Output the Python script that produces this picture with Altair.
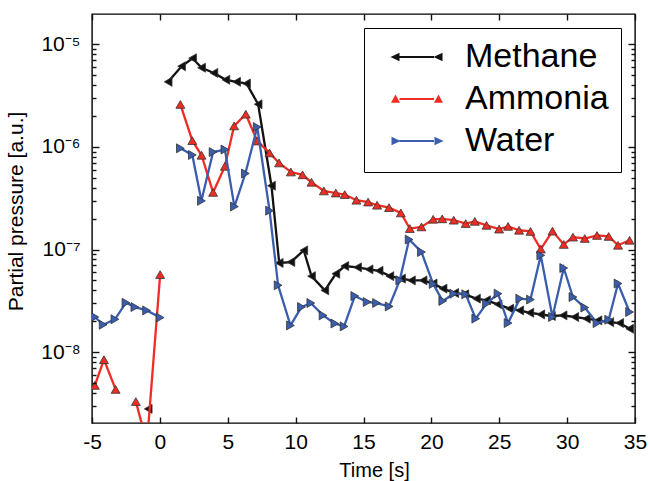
import altair as alt
import pandas as pd

series_names = ["Methane", "Ammonia", "Water"]
series_colors = ["#111111", "#ee2d24", "#3a5dae"]
series_shapes = ["triangle-left", "triangle-up", "triangle-right"]

# Methane (segment 0 = isolated point before t=0)
methane_t = [-0.86,
             0.61, 1.6, 2.41, 3.07, 3.98, 4.86, 5.65, 6.38, 7.24, 8.22, 8.79, 9.65, 10.6, 11.17,
             12.15, 12.96, 13.62, 14.56, 15.41, 16.15, 16.94, 17.8, 18.53, 19.39, 20.13, 20.86,
             21.72, 22.46, 23.32, 24.06, 24.91, 25.77, 26.51, 27.25, 28.06, 28.84, 29.7, 30.56,
             31.42, 32.27, 33.14, 33.87, 34.61]
methane_v = [2.8e-9,
             4.3e-6, 6.1e-6, 7.3e-6, 5.9e-6, 5.25e-6, 4.5e-6, 4.3e-6, 4.14e-6, 2.6e-6, 4.18e-7,
             7.4e-8, 7.55e-8, 9.8e-8, 5.5e-8, 4.0e-8, 5.8e-8, 6.9e-8, 6.7e-8, 6.4e-8, 6.2e-8,
             5.5e-8, 5.2e-8, 5.0e-8, 5.0e-8, 4.66e-8, 4.16e-8, 3.77e-8, 3.66e-8, 3.32e-8, 3.2e-8,
             2.92e-8, 2.65e-8, 2.55e-8, 2.42e-8, 2.33e-8, 2.25e-8, 2.28e-8, 2.2e-8, 2.12e-8,
             2.04e-8, 1.96e-8, 1.92e-8, 1.69e-8]
methane_seg = [0] + [1] * 43

ammonia_t = [-4.79, -4.12, -3.26,
             -1.77, -0.95, 0.02,
             1.51, 2.39, 3.07, 3.92, 4.79, 5.47, 6.33, 7.17, 8.08, 8.78, 9.65, 10.51, 11.17,
             12.08, 12.96, 13.62, 14.48, 15.34, 16.0, 16.88, 17.75, 18.41, 19.27, 20.13, 20.8,
             21.65, 22.53, 23.2, 24.06, 24.99, 25.65, 26.46, 27.3, 28.06, 28.92, 29.75, 30.43,
             31.3, 32.2, 33.06, 33.75, 34.6]
ammonia_v = [4.74e-9, 8.45e-9, 4.33e-9,
             3.3e-9, 1.3e-9, 5.7e-8,
             2.59e-6, 1.15e-6, 8.28e-7, 3.6e-7, 6.47e-7, 1.6e-6, 2.08e-6, 1.14e-6, 8.73e-7,
             6.97e-7, 5.69e-7, 5.34e-7, 4.52e-7, 3.72e-7, 3.55e-7, 3.43e-7, 3.02e-7, 2.9e-7,
             2.7e-7, 2.56e-7, 2.27e-7, 1.6e-7, 1.66e-7, 1.97e-7, 1.99e-7, 1.93e-7, 1.79e-7,
             1.88e-7, 1.72e-7, 1.58e-7, 1.68e-7, 1.54e-7, 1.5e-7, 1.01e-7, 1.51e-7, 1.12e-7,
             1.32e-7, 1.28e-7, 1.37e-7, 1.34e-7, 1.1e-7, 1.23e-7]
ammonia_seg = [0] * 3 + [1] * 3 + [2] * 42

water_t = [-4.79, -4.18, -3.31, -2.5, -1.84, -0.98, 0.02,
           1.51, 2.39, 3.06, 3.92, 4.79, 5.49, 6.3, 7.17, 8.08, 8.71, 9.62, 10.43, 11.12, 12.02,
           12.89, 13.57, 14.36, 15.27, 15.96, 16.89, 17.67, 18.36, 19.27, 20.13, 20.84, 21.65,
           22.53, 23.27, 24.06, 24.91, 25.65, 26.51, 27.3, 28.06, 28.92, 29.75, 30.43, 31.3,
           32.2, 33.06, 33.75, 34.6]
water_v = [2.2e-8, 1.85e-8, 2.09e-8, 3.03e-8, 2.75e-8, 2.55e-8, 2.17e-8,
           9.68e-7, 8.34e-7, 2.98e-7, 8.9e-7, 9.41e-7, 2.62e-7, 5.5e-7, 1.56e-6, 2.39e-7,
           4.48e-8, 1.82e-8, 2.75e-8, 3.01e-8, 2.28e-8, 1.9e-8, 1.78e-8, 3.52e-8, 3.08e-8,
           3.01e-8, 2.79e-8, 5.01e-8, 1.25e-7, 9.46e-8, 4.62e-8, 3.15e-8, 3.71e-8, 3.66e-8,
           2.12e-8, 2.97e-8, 3.71e-8, 1.92e-8, 3.32e-8, 3.25e-8, 8.77e-8, 2.2e-8, 6.6e-8,
           3.44e-8, 2.72e-8, 1.92e-8, 2.07e-8, 4.66e-8, 2.46e-8]
water_seg = [0] * 7 + [1] * 42

x_ticks = [-5, 0, 5, 10, 15, 20, 25, 30, 35]
y_major_ticks = [1e-8, 1e-7, 1e-6, 1e-5]
y_mantissas = [2, 3, 4, 5, 6, 7, 8, 9]
y_exponents = [-9, -8, -7, -6, -5]
y_domain = [2.04e-9, 1.97e-5]
y_minor_ticks = [m * 10.0 ** e for e in y_exponents for m in y_mantissas
                 if y_domain[0] <= m * 10.0 ** e <= y_domain[1]]

FONT = "Liberation Sans"

series_data = {
    "Methane": (methane_t, methane_v, methane_seg),
    "Ammonia": (ammonia_t, ammonia_v, ammonia_seg),
    "Water": (water_t, water_v, water_seg),
}

xscale = alt.Scale(domain=[-5, 35], nice=False, zero=False)
yscale = alt.Scale(type="log", domain=y_domain, nice=False)

sup = "['⁰','¹','²','³','⁴','⁵','⁶','⁷','⁸','⁹'][-round(log(datum.value)/LN10)]"

tick_style = dict(domain=False, ticks=True, tickColor="#111111", tickWidth=1.4,
                  tickOpacity=1, grid=False, zindex=2)

axis_bottom = alt.Axis(orient="bottom", values=x_ticks, title="Time [s]", offset=-6,
                       tickSize=6, labelPadding=8, labelFontSize=21, labelFont=FONT,
                       labelColor="black", labelFlush=False, labelOverlap=False,
                       labelExpr="'' + datum.value",
                       titleFontSize=20, titleFont=FONT, titleFontWeight="normal",
                       titleColor="black", titlePadding=8, titleX=282, **tick_style)
axis_top = alt.Axis(orient="top", values=x_ticks, title=None, labels=False, offset=-6,
                    tickSize=6, **tick_style)
axis_left_major = alt.Axis(orient="left", values=y_major_ticks, title="Partial pressure [a.u.]",
                           offset=-7, tickSize=7,
                           labelExpr="'10⁻' + " + sup,
                           labelPadding=12, labelFontSize=21, labelFont=FONT,
                           labelColor="black", labelOverlap=False, labelFlush=False,
                           titleFontSize=21, titleFont=FONT, titleFontWeight="normal",
                           titleColor="black", titlePadding=14, titleY=197, **tick_style)
axis_left_minor = alt.Axis(orient="left", values=y_minor_ticks, title=None, labels=False,
                           offset=-4, tickSize=4, **tick_style)
axis_right_major = alt.Axis(orient="right", values=y_major_ticks, title=None, labels=False,
                            offset=-7, tickSize=7, **tick_style)
axis_right_minor = alt.Axis(orient="right", values=y_minor_ticks, title=None, labels=False,
                            offset=-4, tickSize=4, **tick_style)

axes_for_layer = [
    (axis_bottom, axis_left_major),
    (axis_top, axis_right_major),
    (None, axis_left_minor),
    (None, axis_right_minor),
    (None, None),
    (None, None),
]

layers = []
k = 0
for i, name in enumerate(series_names):
    t, v, seg = series_data[name]
    df = pd.DataFrame({"t": t, "v": v, "seg": seg})
    ax_x, ax_y = axes_for_layer[k]
    line = alt.Chart(df).mark_line(color=series_colors[i], strokeWidth=2.3, clip=True).encode(
        x=alt.X("t:Q", scale=xscale, axis=ax_x),
        y=alt.Y("v:Q", scale=yscale, axis=ax_y),
        detail="seg:N",
    )
    ax_x2, ax_y2 = axes_for_layer[k + 1]
    pts = alt.Chart(df).mark_point(shape=series_shapes[i], filled=True, size=80,
                                   fill=series_colors[i], stroke="#333333", strokeWidth=0.8,
                                   opacity=1, clip=True).encode(
        x=alt.X("t:Q", scale=xscale, axis=ax_x2),
        y=alt.Y("v:Q", scale=yscale, axis=ax_y2),
    )
    layers += [line, pts]
    k += 2

# legend symbols: line with a marker at each end
def tri(kind, cx):
    if kind == "left":
        return f"M{cx-0.5},0L{cx+0.4},-0.42L{cx+0.4},0.42Z"
    if kind == "up":
        return f"M{cx-0.45},0.38L{cx},-0.45L{cx+0.45},0.38Z"
    return f"M{cx-0.4},-0.42L{cx+0.5},0L{cx-0.4},0.42Z"

bar = "M-1.75,-0.1L1.7,-0.1L1.7,0.1L-1.75,0.1Z"
legend_paths = [tri(k_, -2.15) + bar + tri(k_, 2.15) for k_ in ["left", "up", "right"]]

leg = alt.Legend(title=" ", titleOrient="bottom", titleFontSize=2, titlePadding=0,
                 orient="top-right", offset=14, padding=12, rowPadding=8,
                 labelFontSize=34, labelFont=FONT, labelColor="black", labelLimit=400,
                 symbolSize=400, symbolOffset=24, labelOffset=31,
                 strokeColor="black", fillColor="white",
                 symbolStrokeWidth=0.6, symbolStrokeColor="#333333", symbolOpacity=1)

legend_df = pd.DataFrame({"series": series_names})
legend_layer = alt.Chart(legend_df).transform_filter("false").mark_point(
    filled=True, stroke="#333333", strokeWidth=0.6).encode(
    color=alt.Color("series:N", scale=alt.Scale(domain=series_names, range=series_colors),
                    legend=leg),
    shape=alt.Shape("series:N", scale=alt.Scale(domain=series_names, range=legend_paths),
                    legend=leg),
)
layers.append(legend_layer)

chart = alt.layer(*layers).resolve_axis(x="independent", y="independent").properties(
    width=543, height=409,
    padding={"left": 92, "top": 14, "right": 15, "bottom": 58},
    autosize=alt.AutoSizeParams(type="none"),
    background="white",
).configure_view(stroke="black", strokeWidth=1.4).configure_axis(
    ticks=True, tickColor="#111111")

chart.save("out.html", embed_options={"renderer": "svg", "actions": False})
